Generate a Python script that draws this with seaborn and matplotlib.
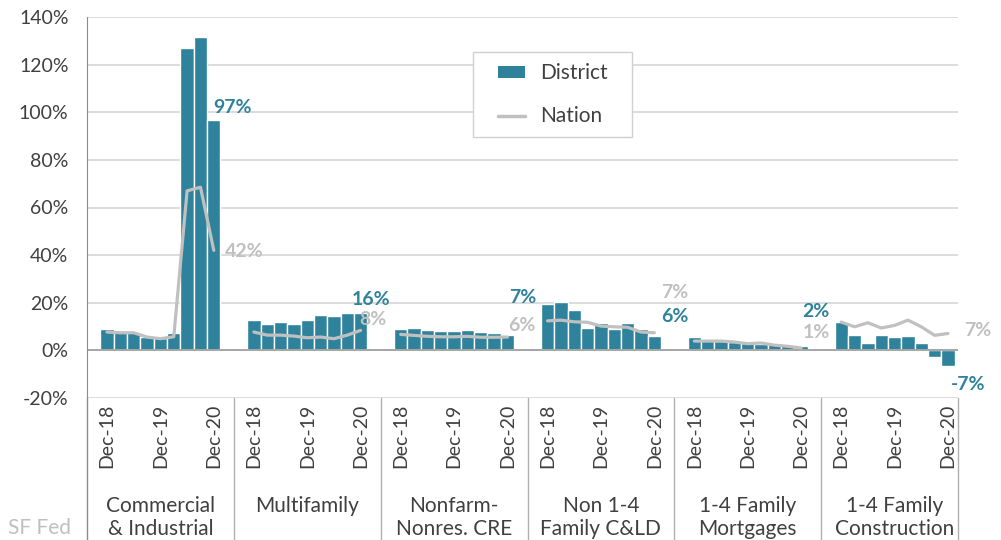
# Préstamos: crecimiento anual District vs Nation por tipo de cartera
import pandas as pd
import matplotlib
matplotlib.use('Agg')
import matplotlib.pyplot as plt
import matplotlib.transforms as mtransforms
import seaborn as sns
from matplotlib.patches import Patch, Rectangle
from matplotlib.lines import Line2D

# Datos
groups = ['Commercial\n& Industrial', 'Multifamily', 'Nonfarm-\nNonres. CRE',
          'Non 1-4\nFamily C&LD', '1-4 Family\nMortgages', '1-4 Family\nConstruction']
quarters = ['Dec-18', 'Mar-19', 'Jun-19', 'Sep-19', 'Dec-19',
            'Mar-20', 'Jun-20', 'Sep-20', 'Dec-20']
shown_ticks = ['Dec-18', 'Dec-19', 'Dec-20']

district_ci = [8.8, 7.8, 7.8, 5.6, 5.3, 7.4, 127.0, 131.5, 96.8]
nation_ci = [7.7, 7.4, 7.4, 5.6, 4.9, 5.7, 67.0, 68.5, 42.0]
district_mf = [12.6, 10.9, 12.0, 10.9, 12.6, 15.0, 14.3, 15.5, 15.8]
nation_mf = [7.7, 6.4, 6.4, 6.0, 5.3, 5.6, 4.9, 6.4, 8.4]
district_nf = [8.8, 9.2, 8.4, 8.1, 8.0, 8.4, 7.8, 7.4, 6.5]
nation_nf = [6.7, 6.3, 5.9, 5.7, 5.7, 5.9, 5.5, 5.5, 5.6]
district_cld = [19.6, 20.3, 16.9, 9.2, 11.3, 9.0, 11.3, 8.8, 6.0]
nation_cld = [12.4, 12.7, 12.0, 11.8, 10.2, 9.9, 9.7, 7.7, 7.4]
district_mort = [5.6, 4.8, 4.0, 3.6, 3.1, 2.8, 2.5, 2.2, 1.7]
nation_mort = [3.9, 3.9, 3.9, 3.5, 2.8, 3.1, 2.2, 1.7, 1.0]
district_con = [12.0, 6.3, 2.9, 6.4, 5.6, 5.9, 2.9, -2.8, -6.6]
nation_con = [11.9, 9.9, 11.6, 9.4, 10.5, 12.7, 9.9, 6.3, 7.1]

district_last = ['97%', '16%', '7%', '6%', '2%', '-7%']
nation_last = ['42%', '8%', '6%', '7%', '1%', '7%']

district_all = [district_ci, district_mf, district_nf, district_cld, district_mort, district_con]
nation_all = [nation_ci, nation_mf, nation_nf, nation_cld, nation_mort, nation_con]

# Tabla larga: 11 posiciones por grupo (hueco, 9 trimestres, hueco)
SLOTS = 11
rows = []
for g, (d, n) in enumerate(zip(district_all, nation_all)):
    for i, q in enumerate(quarters):
        rows.append({'group': g, 'quarter': q, 'pos': g * SLOTS + 1 + i,
                     'district': d[i], 'nation': n[i]})
df = pd.DataFrame(rows)

teal = '#2e829c'
gray = '#c0c0c0'
text_col = '#404040'

sns.set_style('white')
plt.rcParams['font.family'] = ['Lato', 'DejaVu Sans']

fig = plt.figure(figsize=(10.01, 5.40), dpi=100)
ax = fig.add_axes([87 / 1001, 1 - 398 / 540, (958 - 87) / 1001, 381 / 540])

sns.barplot(data=df, x='pos', y='district', native_scale=True, width=1,
            color=teal, saturation=1, edgecolor='white', linewidth=1,
            errorbar=None, ax=ax, zorder=2)
for g in range(len(groups)):
    sub = df[df['group'] == g]
    sns.lineplot(data=sub, x='pos', y='nation', color=gray, linewidth=2.3,
                 legend=False, ax=ax, zorder=3)

ax.set_xlim(-0.5, df['pos'].max() + 0.75)
ax.set_ylim(-20, 140)
yt = list(range(-20, 141, 20))
ax.set_yticks(yt)
ax.set_yticklabels([f'{v}%' for v in yt])
tick_df = df[df['quarter'].isin(shown_ticks)]
ax.set_xticks(tick_df['pos'])
ax.set_xticklabels(tick_df['quarter'], rotation=90)
ax.set_xlabel('')
ax.set_ylabel('')

ax.yaxis.grid(True, color='#d9d9d9', linewidth=1.3)
ax.set_axisbelow(True)
ax.axhline(0, color='#a6a6a6', linewidth=1.4, zorder=2.5)

for s in ['top', 'right', 'bottom']:
    ax.spines[s].set_visible(False)
ax.spines['left'].set_color('#8c8c8c')
ax.tick_params(axis='y', length=4.3, color='#8c8c8c', pad=9,
               labelsize=14, labelcolor=text_col)
ax.tick_params(axis='x', length=0, pad=4, labelsize=14, labelcolor=text_col)

# Separadores del eje de categorías
trans = mtransforms.blended_transform_factory(ax.transData, ax.transAxes)
ax.plot([0, 0], [0, -0.5], transform=ax.transAxes, color='#8c8c8c',
        linewidth=1, clip_on=False)
ax.plot([1, 1], [0, -0.5], transform=ax.transAxes, color='#b0b0b0',
        linewidth=1, clip_on=False)
for g in range(1, len(groups)):
    ax.plot([g * SLOTS - 0.5] * 2, [0, -0.5], transform=trans,
            color='#b0b0b0', linewidth=1, clip_on=False)
for g, name in enumerate(groups):
    ax.text(g * SLOTS + 5, -0.258, name, transform=trans, ha='center',
            va='top', fontsize=15, color=text_col, linespacing=1.2)

# Etiquetas del último dato
d_off = [(19, 12), (10, 13), (15, 37), (20, 20), (15, 35), (20, -18)]
n_off = [(30, -1), (12, 11), (14, 12), (20, 40), (15, 15), (30, 3)]
for g in range(len(groups)):
    last = df[df['group'] == g].iloc[-1]
    ax.annotate(district_last[g], xy=(last['pos'], last['district']),
                xytext=d_off[g], textcoords='offset pixels', ha='center',
                va='center', fontsize=14, fontweight='bold', color=teal)
    ax.annotate(nation_last[g], xy=(last['pos'], last['nation']),
                xytext=n_off[g], textcoords='offset pixels', ha='center',
                va='center', fontsize=14, fontweight='bold', color=gray)

handles = [Patch(facecolor=teal, edgecolor='none'),
           Line2D([], [], color=gray, linewidth=2.5)]
leg = ax.legend(handles, ['District', 'Nation'], loc='upper left',
                bbox_to_anchor=(0.472, 0.878), frameon=False, fontsize=15,
                labelspacing=1.1, handlelength=1.3, handleheight=0.5,
                borderpad=0, borderaxespad=0, handletextpad=0.7)
for t in leg.get_texts():
    t.set_color(text_col)
leg.set_zorder(5)

# Marco de la leyenda con más margen horizontal que vertical
fig.canvas.draw()
bb = leg.get_window_extent()
frame = Rectangle((bb.x0 - 25, bb.y0 - 11), bb.width + 50, bb.height + 22,
                  transform=mtransforms.IdentityTransform(), facecolor='white',
                  edgecolor='#d0d0d0', linewidth=1, zorder=4, clip_on=False)
ax.add_artist(frame)

fig.text(8 / 1001, 1 - 528 / 540, 'SF Fed', color='#bfbfbf', fontsize=15,
         va='center')

fig.savefig('out.png', dpi=100)
